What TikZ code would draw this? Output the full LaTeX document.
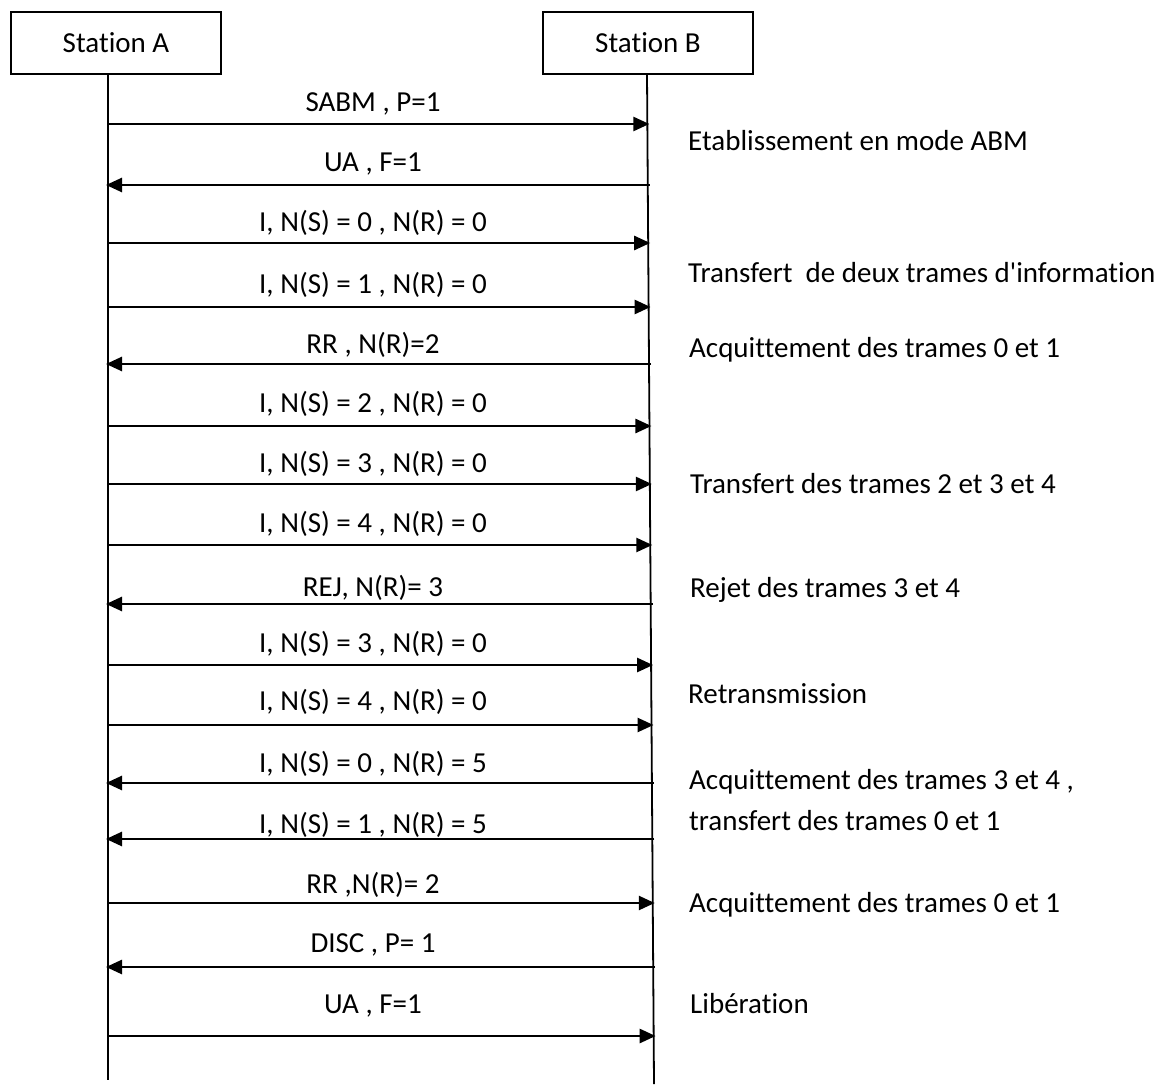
\documentclass[tikz,border=0pt]{standalone}
\usepackage{fontspec}
\setmainfont{Carlito}[Ligatures={NoCommon}]
\usetikzlibrary{arrows.meta}
\begin{document}
\begin{tikzpicture}[x=1pt,y=-1pt,
  font=\fontsize{29pt}{35pt}\selectfont,
  station/.style={draw,line width=2pt,minimum width=210pt,minimum height=62pt,inner sep=0pt},
  life/.style={line width=1.8pt},
  msg/.style={line width=2.6pt,-{Triangle[length=16pt,width=14pt]}},
  lbl/.style={anchor=base,inner sep=0pt},
  note/.style={anchor=base west,inner sep=0pt}]
\useasboundingbox (0,0) rectangle (1167,1086);
% stations
\node[station] (A) at (116,43) {Station A};
\node[station] (B) at (648,43) {Station B};
% lifelines
\coordinate (Abot) at (108,1080);
\coordinate (Bbot) at (654,1084);
\coordinate (Atop) at (A.south -| Abot);
\coordinate (Btop) at (647,74);
\draw[life] (Atop) -- (Abot);
\draw[life] (Btop) -- (Bbot);
% messages A -> B
\foreach \i/\y/\by/\t in {
  1/124/112/{SABM , P=1},
  3/243/232/{I, N(S) = 0 , N(R) = 0},
  4/307/293/{I, N(S) = 1 , N(R) = 0},
  6/426/412/{I, N(S) = 2 , N(R) = 0},
  7/484/472/{I, N(S) = 3 , N(R) = 0},
  8/545/532/{I, N(S) = 4 , N(R) = 0},
  10/665/652/{I, N(S) = 3 , N(R) = 0},
  11/725/710/{I, N(S) = 4 , N(R) = 0},
  14/903/893/{RR ,N(R)= 2},
  16/1036/1013/{UA , F=1}}{
  \pgfmathsetmacro\xb{647+7*(\y-74)/1010+2}
  \coordinate (a\i) at (108,\y);
  \coordinate (b\i) at (\xb,\y);
  \draw[msg] (a\i) -- (b\i);
  \node[lbl] (m\i) at (373,\by) {\t};
}
% messages B -> A
\foreach \i/\y/\by/\t in {
  2/185/172/{UA , F=1},
  5/364/353/{RR , N(R)=2},
  9/604/596/{REJ, N(R)= 3},
  12/783/772/{I, N(S) = 0 , N(R) = 5},
  13/839/833/{I, N(S) = 1 , N(R) = 5},
  15/967/952/{DISC , P= 1}}{
  \pgfmathsetmacro\xb{647+7*(\y-74)/1010+2}
  \coordinate (a\i) at (106,\y);
  \coordinate (b\i) at (\xb,\y);
  \draw[msg] (b\i) -- (a\i);
  \node[lbl] (m\i) at (373,\by) {\t};
}
% annotations
\node[note] (n1) at (688,151) {Etablissement en mode ABM};
\node[note] (n2) at (688,282) {Transfert\ \ de deux trames d\textquotesingle information};
\node[note] (n3) at (689,357) {Acquittement des trames 0 et 1};
\node[note] (n4) at (690,493) {Transfert des trames 2 et 3 et 4};
\node[note] (n5) at (690,597) {Rejet des trames 3 et 4};
\node[note] (n6) at (688,703) {Retransmission};
\node[note] (n7) at (689,789) {Acquittement des trames 3 et 4 ,};
\node[note] (n8) at (689,830) {transfert des trames 0 et 1};
\node[note] (n9) at (689,912) {Acquittement des trames 0 et 1};
\node[note] (n10) at (690,1013) {Libération};
\end{tikzpicture}
\end{document}
